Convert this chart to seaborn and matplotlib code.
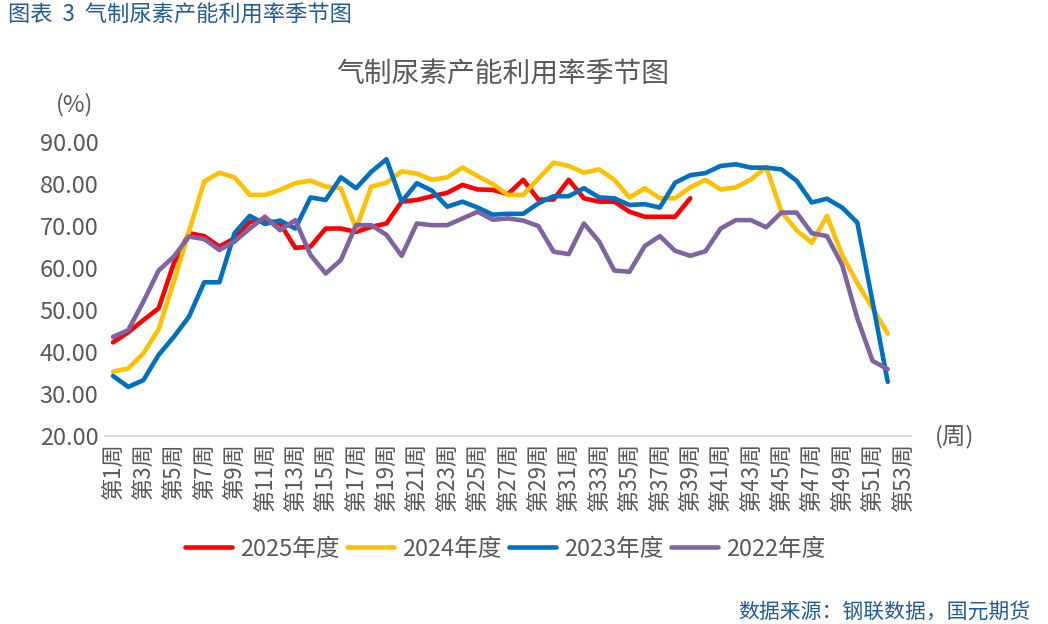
import pandas as pd
import matplotlib
matplotlib.use("Agg")
import matplotlib.pyplot as plt
import seaborn as sns

sns.set_theme(style="white")
plt.rcParams["font.family"] = ["Noto Sans CJK SC", "DejaVu Sans"]

# ---------------------------------------------------------
# Data (% capacity utilisation)
# ---------------------------------------------------------
weeks_all = list(range(1, 54))
week_labels = [f"第{w}周" for w in weeks_all]

y2025 = [42.3, 44.7, 47.6, 50.4, 61.1, 68.3, 67.6, 65.1, 67.1, 71.0,
         71.4, 70.6, 64.8, 65.1, 69.4, 69.4, 68.6, 69.8, 70.6, 75.8,
         76.2, 77.1, 77.9, 79.8, 78.7, 78.6, 77.6, 81.0, 76.3, 76.3,
         81.0, 76.6, 75.8, 75.8, 73.4, 72.2, 72.2, 72.2, 76.6]

y2024 = [35.3, 36.1, 39.7, 45.4, 56.7, 68.7, 80.6, 82.7, 81.6, 77.4,
         77.4, 78.6, 80.2, 80.8, 79.4, 79.0, 69.4, 79.4, 80.3, 83.0,
         82.5, 81.0, 81.6, 83.9, 81.9, 80.0, 77.4, 77.4, 81.3, 85.1,
         84.3, 82.7, 83.5, 81.0, 76.8, 79.0, 76.6, 76.6, 79.2, 81.0,
         78.7, 79.2, 81.1, 84.1, 73.4, 69.0, 66.0, 72.4, 63.1, 56.4,
         50.4, 44.4]

y2023 = [34.3, 31.7, 33.3, 39.3, 43.6, 48.4, 56.6, 56.6, 68.3, 72.4,
         70.5, 71.3, 69.4, 76.8, 76.2, 81.6, 79.0, 82.9, 85.9, 75.8,
         80.2, 78.4, 74.6, 75.8, 74.4, 72.7, 72.9, 72.9, 75.4, 77.1,
         77.1, 79.0, 76.8, 76.6, 75.0, 75.2, 74.4, 80.3, 82.1, 82.6,
         84.3, 84.7, 83.9, 83.9, 83.5, 80.8, 75.6, 76.5, 74.4, 70.8,
         52.0, 32.9]

y2022 = [43.6, 45.2, 52.0, 59.4, 62.7, 67.5, 66.9, 64.3, 66.3, 69.4,
         72.2, 69.0, 71.4, 63.1, 58.7, 61.9, 70.2, 70.2, 67.9, 62.9,
         70.6, 70.2, 70.2, 71.8, 73.4, 71.5, 71.8, 71.3, 70.0, 63.9,
         63.3, 70.6, 66.3, 59.4, 59.1, 65.2, 67.6, 64.1, 62.9, 64.0,
         69.4, 71.4, 71.4, 69.7, 73.2, 73.2, 68.3, 67.6, 60.7, 48.0,
         37.9, 35.9]

series = {"2025年度": y2025, "2024年度": y2024, "2023年度": y2023, "2022年度": y2022}
palette = {"2025年度": "#FF0000", "2024年度": "#FFC000",
           "2023年度": "#0070C0", "2022年度": "#8064A2"}

rows = []
for name, vals in series.items():
    for w, v in zip(weeks_all, vals):
        rows.append({"week": w, "value": v, "year": name})
df = pd.DataFrame(rows)

# ---------------------------------------------------------
# Plot
# ---------------------------------------------------------
grey = "#595959"
fig = plt.figure(figsize=(10.48, 6.24), dpi=100)
ax = fig.add_axes([0.1006, 0.3013, 0.7682, 0.4711])

sns.lineplot(data=df, x="week", y="value", hue="year", palette=palette,
             hue_order=list(series.keys()), linewidth=3.3, sort=False,
             estimator=None, ax=ax)

ax.set_xlim(0.5, 53.5)
ax.set_ylim(20, 90)
ax.set_yticks(range(20, 91, 10))
ax.set_yticklabels([f"{v:.2f}" for v in range(20, 91, 10)], fontsize=17, color=grey)
ax.set_xticks(weeks_all[::2])
ax.set_xticklabels(week_labels[::2], rotation=90, fontsize=16, color=grey)
ax.tick_params(axis="both", length=0, pad=5)
ax.set_xlabel("")
ax.set_ylabel("")
for side in ["top", "right", "left"]:
    ax.spines[side].set_visible(False)
ax.spines["bottom"].set_color("#D9D9D9")
ax.spines["bottom"].set_linewidth(1.5)
ax.grid(False)

ax.legend(loc="center", bbox_to_anchor=(0.482, 0.12), bbox_transform=fig.transFigure,
          ncol=4, frameon=False, fontsize=17, handlelength=2.0,
          columnspacing=0.3, handletextpad=0.35, labelcolor=grey)

fig.text(0.008, 0.976, "图表  3  气制尿素产能利用率季节图", color="#1F5C9E",
         fontsize=16, va="center", ha="left")
fig.text(0.48, 0.88, "气制尿素产能利用率季节图", color=grey, fontsize=20,
         va="center", ha="center")
fig.text(0.071, 0.832, "(%)", color=grey, fontsize=17, va="center", ha="center")
fig.text(0.911, 0.30, "(周)", color=grey, fontsize=17, va="center", ha="center")
fig.text(0.983, 0.019, "数据来源：钢联数据，国元期货", color="#1F5C9E",
         fontsize=15, va="center", ha="right")

fig.savefig("out.png", dpi=100, facecolor="white")
